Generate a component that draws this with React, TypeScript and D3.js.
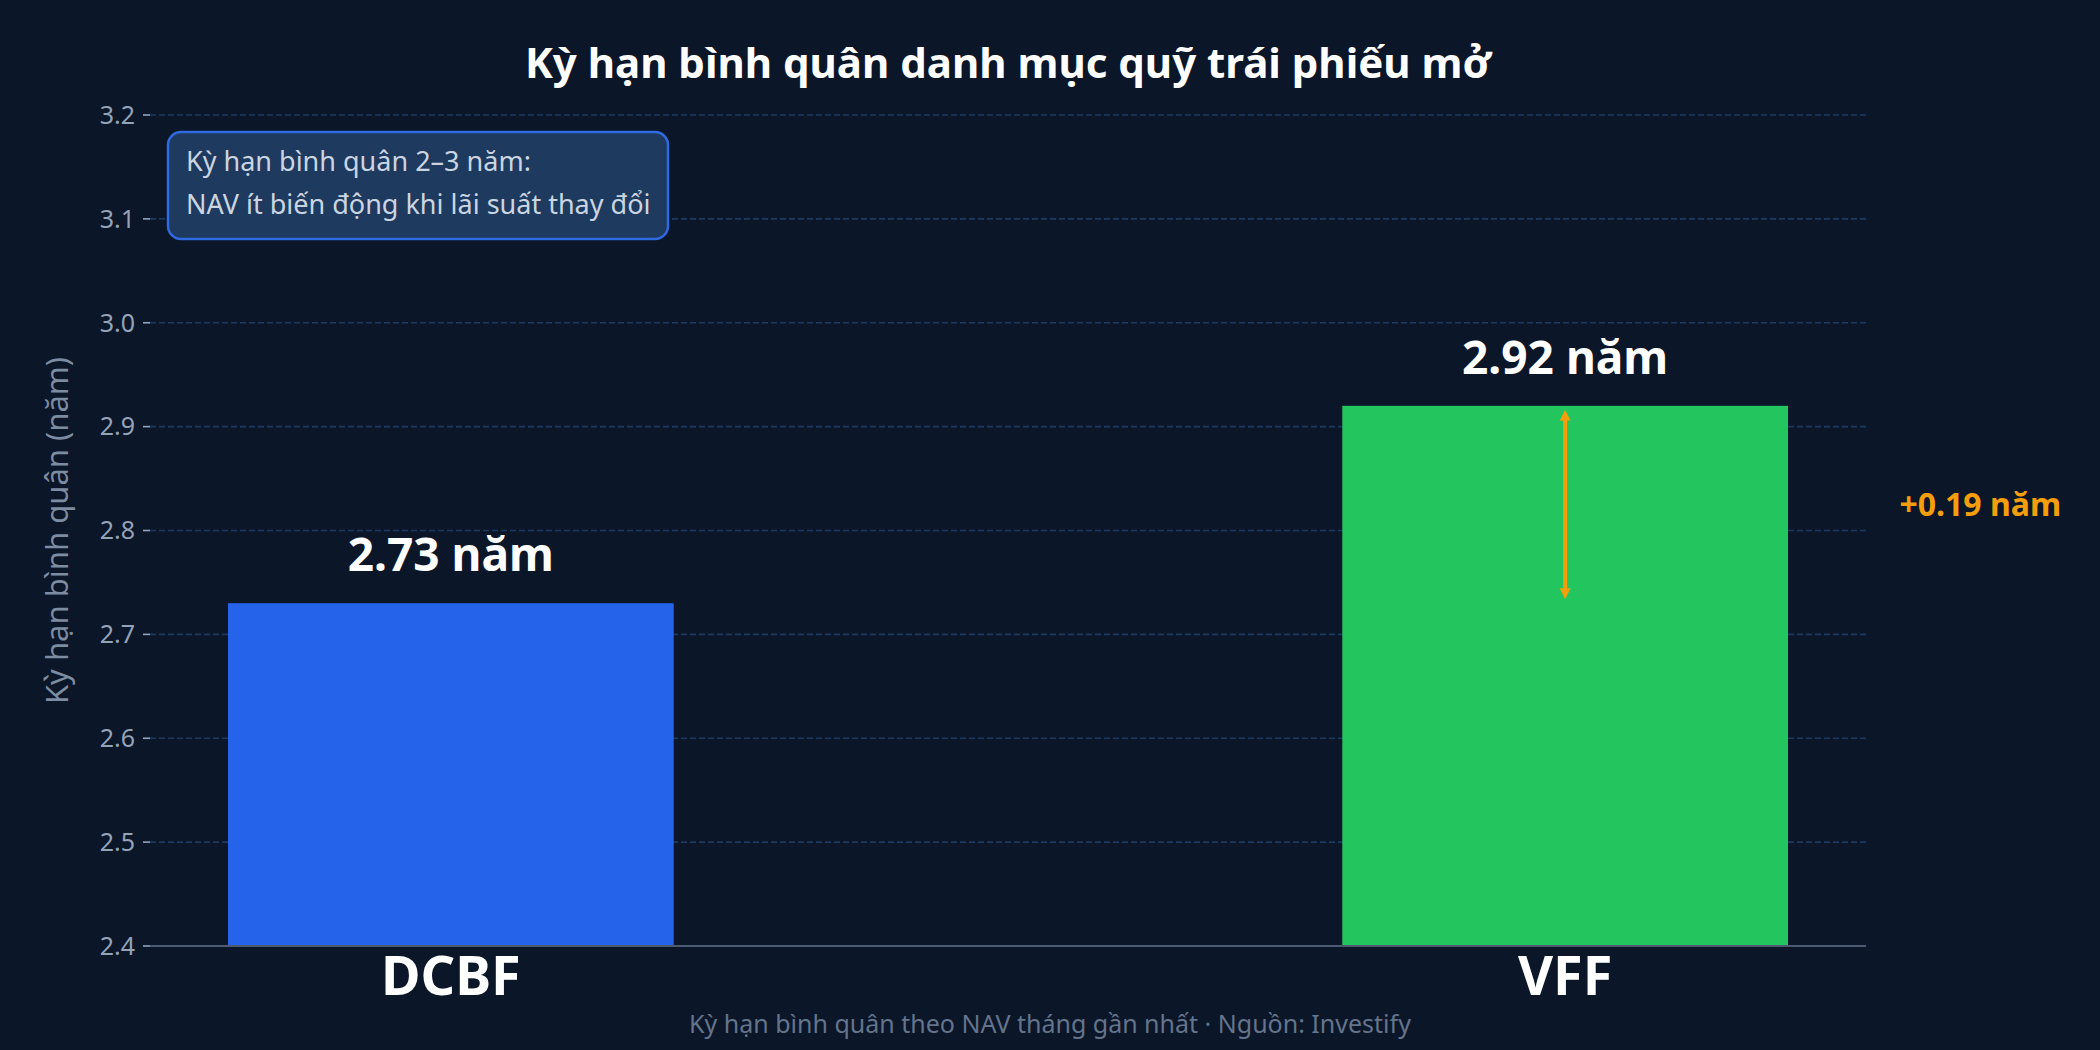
import React from "react";
import * as d3 from "d3";

const categories = ["DCBF", "VFF"];
const values = [2.73, 2.92];
const barColors = ["#2563eb", "#22c55e"];
const valueLabels = ["2.73 năm", "2.92 năm"];
const yTicks = [2.4, 2.5, 2.6, 2.7, 2.8, 2.9, 3.0, 3.1, 3.2];
const yDomain = [2.4, 3.2];
const diffLabel = "+0.19 năm";
const title = "Kỳ hạn bình quân danh mục quỹ trái phiếu mở";
const yLabel = "Kỳ hạn bình quân (năm)";
const footer = "Kỳ hạn bình quân theo NAV tháng gần nhất · Nguồn: Investify";
const noteLines = ["Kỳ hạn bình quân 2–3 năm:", "NAV ít biến động khi lãi suất thay đổi"];

const W = 2100;
const H = 1050;
const M = { left: 150, right: 1866, top: 115, bottom: 946 };
const FONT = "'Noto Sans', 'Open Sans', sans-serif";

export default function App() {
  const x = d3.scaleLinear().domain([-0.27, 1.27]).range([M.left, M.right]);
  const y = d3.scaleLinear().domain(yDomain).range([M.bottom, M.top]);
  const barW = x(0.4) - x(0);
  const arrowX = x(1);
  const yA = y(values[0]) - 4;
  const yB = y(values[1]) + 4;
  const head = 11;
  const hw = 5.5;

  return (
    <svg
      width={W}
      height={H}
      viewBox={`0 0 ${W} ${H}`}
      style={{ position: "fixed", left: 0, top: 0, display: "block" }}
      fontFamily={FONT}
    >
      <rect x={0} y={0} width={W} height={H} fill="#0b1628" />
      {/* grid */}
      {yTicks.filter((t) => t > yDomain[0]).map((t) => (
        <line
          key={"g" + t}
          x1={M.left}
          x2={M.right}
          y1={y(t)}
          y2={y(t)}
          stroke="#1e3a5f"
          strokeWidth={1.6}
          strokeDasharray="6,3"
        />
      ))}
      {/* y ticks */}
      {yTicks.map((t) => (
        <g key={"t" + t}>
          <line x1={M.left - 7} x2={M.left} y1={y(t)} y2={y(t)} stroke="#94a3b8" strokeWidth={1.6} />
          <text
            x={M.left - 15}
            y={y(t)}
            dy="0.35em"
            textAnchor="end"
            fontSize={25}
            fill="#94a3b8"
          >
            {t.toFixed(1)}
          </text>
        </g>
      ))}
      {/* bars */}
      {categories.map((c, i) => (
        <rect
          key={c}
          x={x(i) - barW / 2}
          y={y(values[i])}
          width={barW}
          height={y(yDomain[0]) - y(values[i])}
          fill={barColors[i]}
        />
      ))}
      {/* bottom spine */}
      <line x1={M.left} x2={M.right} y1={M.bottom} y2={M.bottom} stroke="#4b5a70" strokeWidth={2} />
      {/* value labels */}
      {categories.map((c, i) => (
        <text
          key={"v" + c}
          x={x(i)}
          y={y(values[i]) - 32}
          textAnchor="middle"
          fontSize={46}
          fontWeight={700}
          fill="#ffffff"
        >
          {valueLabels[i]}
        </text>
      ))}
      {/* x labels */}
      {categories.map((c, i) => (
        <text
          key={"x" + c}
          x={x(i)}
          y={995}
          textAnchor="middle"
          fontSize={54}
          fontWeight={700}
          fill="#ffffff"
        >
          {c}
        </text>
      ))}
      {/* diff arrow */}
      <line x1={arrowX} x2={arrowX} y1={yB + head - 1} y2={yA - head + 1} stroke="#f59e0b" strokeWidth={4} />
      <path d={`M${arrowX},${yB} L${arrowX - hw},${yB + head} L${arrowX + hw},${yB + head} Z`} fill="#f59e0b" />
      <path d={`M${arrowX},${yA} L${arrowX - hw},${yA - head} L${arrowX + hw},${yA - head} Z`} fill="#f59e0b" />
      <text
        x={x(1.3)}
        y={y((values[0] + values[1]) / 2)}
        dy="0.35em"
        fontSize={32}
        fontWeight={700}
        fill="#f59e0b"
      >
        {diffLabel}
      </text>
      {/* note box */}
      <rect
        x={M.left + 18}
        y={M.top + 17}
        width={500}
        height={107}
        rx={13}
        fill="#1e3a5f"
        stroke="#2f6ae0"
        strokeWidth={2.5}
      />
      {noteLines.map((l, i) => (
        <text key={"n" + i} x={M.left + 36} y={M.top + 56 + i * 43} fontSize={27} fill="#cbd5e1">
          {l}
        </text>
      ))}
      {/* y label */}
      <text
        transform={`translate(68, ${(M.top + M.bottom) / 2}) rotate(-90)`}
        textAnchor="middle"
        fontSize={31}
        fill="#94a3b8"
        fillOpacity={0.85}
      >
        {yLabel}
      </text>
      {/* title */}
      <text
        x={(M.left + M.right) / 2}
        y={78}
        textAnchor="middle"
        fontSize={42}
        fontWeight={700}
        fill="#ffffff"
      >
        {title}
      </text>
      {/* footer */}
      <text x={W / 2} y={1033} textAnchor="middle" fontSize={25} fill="#64748b">
        {footer}
      </text>
    </svg>
  );
}
